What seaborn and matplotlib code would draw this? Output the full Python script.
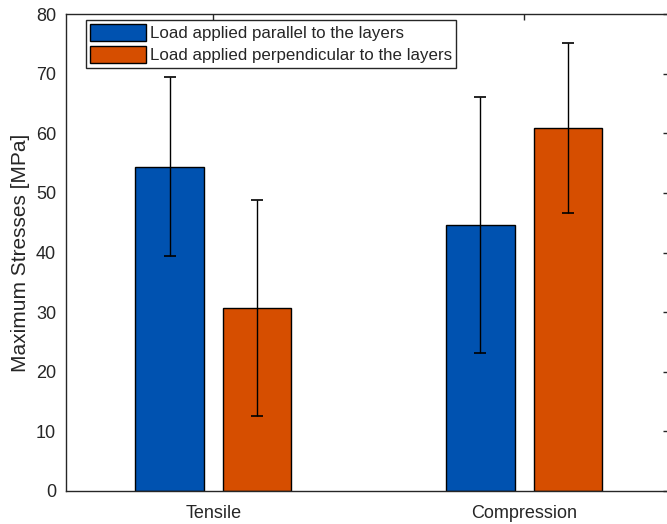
import matplotlib
matplotlib.use("Agg")
import matplotlib.pyplot as plt
import seaborn as sns
import pandas as pd
import numpy as np

# Test data: mean maximum stress and its deviation per load case
tests = ["Tensile", "Compression"]
orientations = ["Load applied parallel to the layers",
                "Load applied perpendicular to the layers"]
stress_parallel = [54.4, 44.6]
stress_perpendicular = [30.7, 60.9]
err_parallel = [15.0, 21.5]
err_perpendicular = [18.2, 14.2]

colors = ["#0052B0", "#D64E00"]

df = pd.DataFrame({
    "test": tests * 2,
    "orientation": [orientations[0]] * 2 + [orientations[1]] * 2,
    "stress": stress_parallel + stress_perpendicular,
    "err": err_parallel + err_perpendicular,
})

sns.set_style("white")
plt.rcParams["font.family"] = ["Liberation Sans", "DejaVu Sans"]

fig = plt.figure(figsize=(6.67, 5.24), dpi=100)
ax = fig.add_axes([0.0985, 0.063, 0.905, 0.910])

sns.barplot(data=df, x="test", y="stress", hue="orientation",
            order=tests, hue_order=orientations, palette=colors,
            width=0.564, gap=0.22, errorbar=None, saturation=1,
            edgecolor="black", linewidth=1.0, ax=ax)

# Error bars drawn at the centre of each bar
for patch, (_, row) in zip(ax.patches, df.iterrows()):
    cx = patch.get_x() + patch.get_width() / 2
    ax.errorbar(cx, row["stress"], yerr=row["err"], fmt="none",
                ecolor="black", elinewidth=1.0, capsize=4.5, capthick=1.2,
                zorder=5)

ax.set_xlim(-0.475, 1.467)
ax.set_ylim(0, 80)
ax.set_yticks(np.arange(0, 81, 10))
ax.set_xlabel("")
ax.set_ylabel("Maximum Stresses [MPa]", fontsize=15, color="#262626",
              labelpad=4)

for s in ax.spines.values():
    s.set_visible(True)
    s.set_color("#262626")
    s.set_linewidth(1.0)

ax.tick_params(axis="both", direction="in", length=4, width=1.0,
               colors="#262626", labelsize=13, top=True, right=True,
               labelcolor="#262626")
ax.tick_params(axis="x", pad=10)
ax.tick_params(axis="y", pad=7)

leg = ax.legend(loc="upper left", bbox_to_anchor=(0.033, 0.988),
                fontsize=12.2, frameon=True, fancybox=False,
                edgecolor="#262626", framealpha=1, borderpad=0.25,
                handlelength=3.3, handleheight=1.15, handletextpad=0.25,
                labelspacing=0.3, borderaxespad=0)
leg.get_frame().set_linewidth(1.0)
for h in leg.legend_handles:
    h.set_edgecolor("black")
    h.set_linewidth(1.0)

fig.savefig("out.png", dpi=100)
